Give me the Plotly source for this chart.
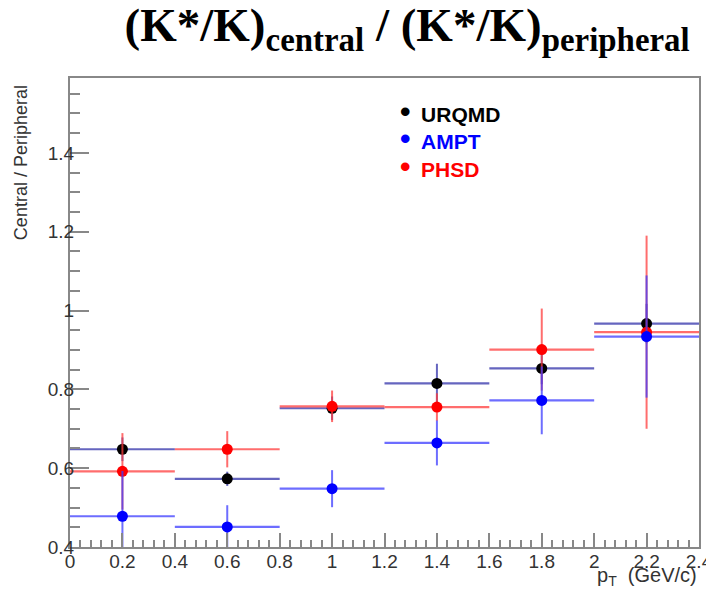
import plotly.graph_objects as go

pt = [0.2, 0.6, 1.0, 1.4, 1.8, 2.2]
pt_halfwidth = [0.2, 0.2, 0.2, 0.2, 0.2, 0.2]

urqmd = [0.648, 0.573, 0.752, 0.815, 0.853, 0.967]
urqmd_err = [0.03, 0.018, 0.03, 0.05, 0.04, 0.05]

ampt = [0.478, 0.451, 0.548, 0.664, 0.772, 0.934]
ampt_err = [0.115, 0.055, 0.047, 0.057, 0.086, 0.155]

phsd = [0.592, 0.648, 0.757, 0.755, 0.901, 0.945]
phsd_err = [0.097, 0.046, 0.04, 0.035, 0.104, 0.245]

series_names = ["URQMD", "AMPT", "PHSD"]
series_colors = ["#000000", "#0000ff", "#ff0000"]

fig = go.Figure()

def add(name, y, err, mcolor, ecolor):
    fig.add_trace(go.Scatter(
        x=pt, y=y, mode="markers", name=name,
        marker=dict(color=mcolor, size=11),
        error_y=dict(type="data", array=err, color=ecolor, thickness=2, width=0),
        error_x=dict(type="data", array=pt_halfwidth, color=ecolor, thickness=2.2, width=0),
    ))

add("URQMD", urqmd, urqmd_err, "#000000", "rgba(50,50,170,0.75)")
add("PHSD", phsd, phsd_err, "#ff0000", "rgba(255,60,60,0.75)")
add("AMPT", ampt, ampt_err, "#0000ff", "rgba(60,60,255,0.75)")

fig.update_layout(
    width=714, height=593,
    margin=dict(l=62, r=23, t=70, b=54),
    paper_bgcolor="white", plot_bgcolor="white",
    title=dict(
        text="<b>(K*/K)<sub>central</sub> / (K*/K)<sub>peripheral</sub></b>",
        font=dict(family="Liberation Serif", size=47, color="black"),
        x=0.559, xanchor="center", xref="container",
        y=1.0, yanchor="top", yref="container",
    ),
    font=dict(family="Liberation Sans", color="#333"),
    showlegend=False,
)

fig.update_xaxes(
    range=[0, 2.4], dtick=0.2, tick0=0, showgrid=False, zeroline=False,
    automargin=False,
    ticks="inside", ticklen=14, tickwidth=1.5, tickcolor="#888",
    minor=dict(dtick=0.04, ticks="inside", ticklen=7, tickcolor="#888", tickwidth=1.5, showgrid=False),
    showline=True, linecolor="#888", linewidth=2, mirror=True,
    tickfont=dict(size=19, color="#333"),
    ticklabelstandoff=-4,
    tickformat="~g",
)
fig.update_yaxes(
    range=[0.4, 1.59], dtick=0.2, tick0=0.4, showgrid=False, zeroline=False,
    automargin=False,
    ticks="inside", ticklen=19, tickwidth=1.5, tickcolor="#888",
    minor=dict(dtick=0.05, ticks="inside", ticklen=10, tickcolor="#888", tickwidth=1.5, showgrid=False),
    showline=True, linecolor="#888", linewidth=2, mirror=True,
    tickfont=dict(size=19, color="#333"),
    ticklabelstandoff=-10,
    tickformat="~g",
)

legend_lines = [
    f"<span style='color:{c}'><span style='font-size:30px'>•</span>"
    f"<span style='font-size:38px'> </span>{n}</span>"
    for n, c in zip(series_names, series_colors)
]
fig.add_annotation(
    text="<br>".join(legend_lines), xref="paper", yref="paper",
    x=0.522, y=0.983, xanchor="left", yanchor="top", align="left",
    showarrow=False,
    font=dict(family="Liberation Sans", size=21, weight="bold"),
)

fig.add_annotation(
    text="Central / Peripheral", xref="paper", yref="paper",
    x=-0.078, y=0.99, xanchor="center", yanchor="top", textangle=-90,
    showarrow=False, font=dict(family="Liberation Sans", size=18, color="#333"),
)
fig.add_annotation(
    text="p<sub>T</sub>&nbsp; (GeV/c)", xref="paper", yref="paper",
    x=1.0, y=-0.062, xanchor="right", yanchor="middle",
    showarrow=False, font=dict(family="Liberation Sans", size=20, color="#333"),
)

fig.write_html("out.html")
